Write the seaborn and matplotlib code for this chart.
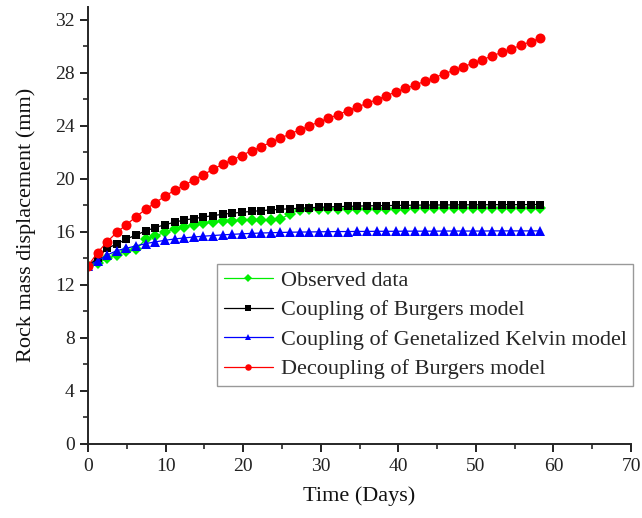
import matplotlib
matplotlib.use("Agg")
import matplotlib.pyplot as plt
import seaborn as sns
import pandas as pd
from matplotlib.ticker import MultipleLocator

time_days = [0, 1.24, 2.48, 3.72, 4.96, 6.2, 7.44, 8.68, 9.92, 11.16, 12.4, 13.64,
             14.88, 16.12, 17.36, 18.6, 19.84, 21.08, 22.32, 23.56, 24.8, 26.04,
             27.28, 28.52, 29.76, 31.0, 32.24, 33.48, 34.72, 35.96, 37.2, 38.44,
             39.68, 40.92, 42.16, 43.4, 44.64, 45.88, 47.12, 48.36, 49.6, 50.84,
             52.08, 53.32, 54.56, 55.8, 57.04, 58.28]

observed = [13.43, 13.64, 14.01, 14.26, 14.59, 14.69, 15.45, 15.70, 15.98, 16.25,
            16.40, 16.53, 16.66, 16.75, 16.83, 16.85, 16.88, 16.90, 16.93, 16.93,
            16.96, 17.38, 17.66, 17.72, 17.74, 17.75, 17.75, 17.76, 17.76, 17.76,
            17.77, 17.77, 17.77, 17.77, 17.78, 17.78, 17.78, 17.78, 17.78, 17.78,
            17.78, 17.78, 17.78, 17.78, 17.78, 17.78, 17.78, 17.78]

coupling_burgers = [13.43, 14.05, 14.77, 15.09, 15.47, 15.77, 16.08, 16.33, 16.55,
                    16.73, 16.91, 17.00, 17.13, 17.23, 17.34, 17.41, 17.49, 17.55,
                    17.61, 17.66, 17.71, 17.75, 17.79, 17.83, 17.86, 17.89, 17.91,
                    17.93, 17.95, 17.97, 17.98, 17.99, 18.00, 18.01, 18.02, 18.03,
                    18.03, 18.04, 18.04, 18.05, 18.05, 18.05, 18.06, 18.06, 18.06,
                    18.06, 18.07, 18.07]

coupling_kelvin = [13.43, 13.84, 14.26, 14.59, 14.77, 14.95, 15.12, 15.25, 15.37,
                   15.47, 15.55, 15.62, 15.68, 15.73, 15.78, 15.82, 15.86, 15.89,
                   15.92, 15.94, 15.96, 15.98, 15.99, 16.00, 16.01, 16.02, 16.03,
                   16.03, 16.04, 16.04, 16.05, 16.05, 16.05, 16.06, 16.06, 16.06,
                   16.06, 16.07, 16.07, 16.07, 16.07, 16.07, 16.08, 16.08, 16.08,
                   16.08, 16.08, 16.08]

decoupling_burgers = [13.43, 14.44, 15.27, 15.97, 16.55, 17.15, 17.71, 18.21, 18.69,
                      19.15, 19.52, 19.92, 20.32, 20.73, 21.11, 21.43, 21.77, 22.14,
                      22.42, 22.77, 23.07, 23.40, 23.70, 24.00, 24.30, 24.58, 24.85,
                      25.16, 25.43, 25.71, 25.98, 26.27, 26.57, 26.84, 27.09, 27.37,
                      27.65, 27.92, 28.20, 28.45, 28.75, 29.00, 29.28, 29.56, 29.81,
                      30.09, 30.36, 30.62]

series_names = ["Observed data", "Coupling of Burgers model",
                "Coupling of Genetalized Kelvin model", "Decoupling of Burgers model"]
series_values = [observed, coupling_burgers, coupling_kelvin, decoupling_burgers]
series_colors = ["#00ee00", "#000000", "#0000ff", "#ff0000"]
series_markers = ["D", "s", "^", "o"]
series_msize = [6.3, 5.8, 7.0, 7.2]

x_ticks = [0, 10, 20, 30, 40, 50, 60, 70]
y_ticks = [0, 4, 8, 12, 16, 20, 24, 28, 32]

sns.set_theme(style="ticks")
plt.rcParams["font.family"] = ["Liberation Serif", "DejaVu Serif"]
plt.rcParams["axes.linewidth"] = 1.4

fig = plt.figure(figsize=(6.42, 5.18), dpi=100)
ax = fig.add_axes([0.137, 0.143, 0.846, 0.844])

for name, vals, col, mk, ms in zip(series_names, series_values, series_colors,
                                   series_markers, series_msize):
    df = pd.DataFrame({"t": time_days, "v": vals})
    sns.lineplot(data=df, x="t", y="v", ax=ax, color=col, marker=mk,
                 markersize=ms, markeredgewidth=0, linewidth=0.9, label=name)

ax.set_xlim(0, 70)
ax.set_ylim(0, 33)
ax.set_xticks(x_ticks)
ax.set_yticks(y_ticks)
ax.xaxis.set_minor_locator(MultipleLocator(5))
ax.yaxis.set_minor_locator(MultipleLocator(2))
ax.tick_params(axis="both", which="major", direction="out", length=6, width=1.4,
               labelsize=14, colors="#222222")
ax.tick_params(axis="x", which="major", pad=4)
ax.tick_params(axis="both", which="minor", direction="out", length=3.5, width=1.2)
for s in ["top", "right"]:
    ax.spines[s].set_visible(False)
ax.set_xlabel("Time (Days)", fontsize=16, color="#111111", labelpad=8)
ax.set_ylabel("Rock mass displacement (mm)", fontsize=16, color="#111111",
              labelpad=14)

leg = ax.legend(loc="upper right", bbox_to_anchor=(1.004, 0.412), fontsize=16,
                frameon=True, fancybox=False, edgecolor="#999999", framealpha=1,
                handlelength=2.2, markerscale=0.65, borderpad=0.3,
                labelspacing=0.4, handletextpad=0.35, borderaxespad=0)
leg.get_frame().set_linewidth(1.0)

fig.savefig("out.png", dpi=100)
